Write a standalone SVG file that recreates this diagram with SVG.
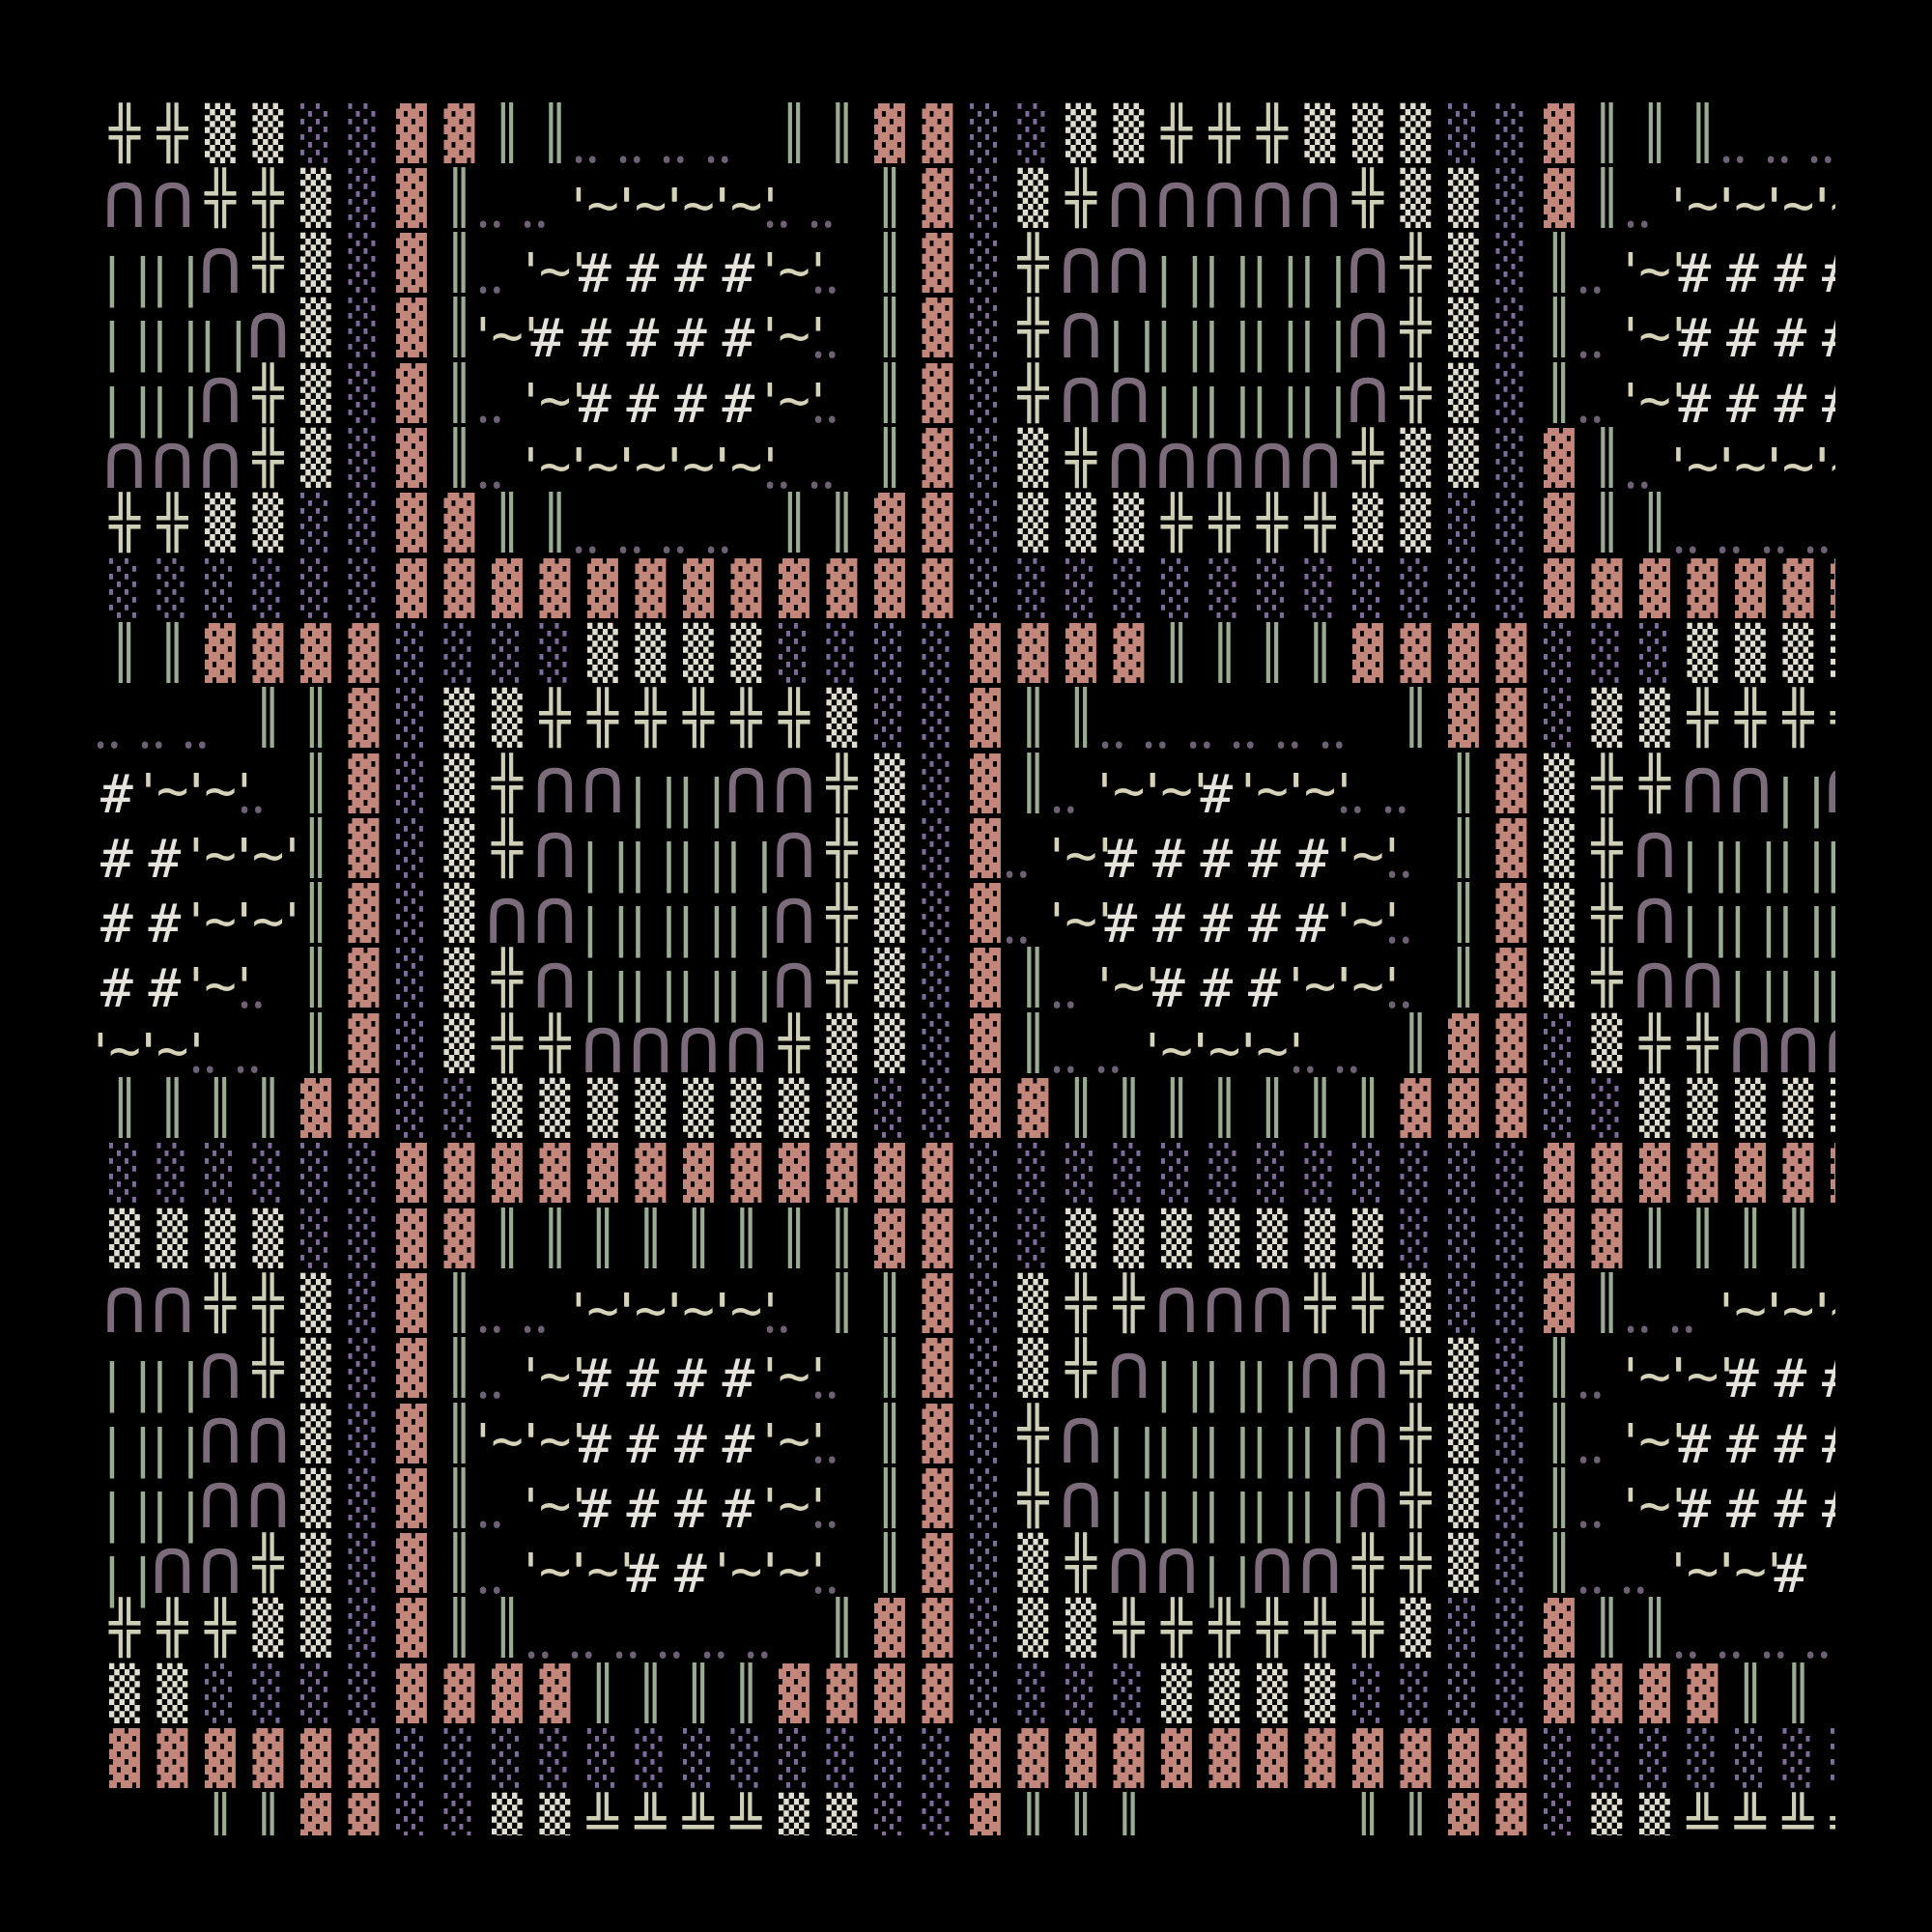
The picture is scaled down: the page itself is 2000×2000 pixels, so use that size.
<svg xmlns="http://www.w3.org/2000/svg" xmlns:xlink="http://www.w3.org/1999/xlink" width="2000" height="2000" viewBox="0 0 2000 2000">
<style>
text{font-family:"DejaVu Sans Mono",monospace;white-space:pre}
.h{fill:#cfcfb6}.m{fill:#e2decf}.l{fill:#7d6c9c}.p{fill:#c3867b}.v{fill:#9aac92}
#main text{font-size:53px;letter-spacing:17.59px}
#arch text{font-size:80px;letter-spacing:1.34px;fill:#7b6b7b}
#hash text{font-size:56px;letter-spacing:15.79px;fill:#e6e3dc}
#tilde text{font-size:56px;letter-spacing:15.79px;fill:#d6d3b8}
#ticks text{font-size:53px;letter-spacing:17.59px;fill:#d6d3b8}
#dots text{font-size:53px;letter-spacing:17.59px;fill:#6f6175}
#bars text{font-size:53px;letter-spacing:17.59px;fill:#9aac92}
</style>
<defs><clipPath id="clip"><rect x="100" y="100" width="1800" height="1800"/></clipPath></defs>
<rect width="2000" height="2000" fill="#000"/>
<g id="grid" clip-path="url(#clip)">
<g id="main" transform="translate(113.05 0)">
<text x="0" y="155.5"><tspan class="h">╬╬</tspan><tspan class="m">▒▒</tspan><tspan class="l">░░</tspan><tspan class="p">▓▓</tspan><tspan class="v">║║</tspan><tspan class="v" x="693">║║</tspan><tspan class="p">▓▓</tspan><tspan class="l">░░</tspan><tspan class="m">▒▒</tspan><tspan class="h">╬╬╬</tspan><tspan class="m">▒▒▒</tspan><tspan class="l">░░</tspan><tspan class="p">▓</tspan><tspan class="v">║║║</tspan></text>
<text x="0" y="222.8"><tspan class="h" x="99">╬╬</tspan><tspan class="m">▒</tspan><tspan class="l">░</tspan><tspan class="p">▓</tspan><tspan class="v">║</tspan><tspan class="v" x="792">║</tspan><tspan class="p">▓</tspan><tspan class="l">░</tspan><tspan class="m">▒</tspan><tspan class="h">╬</tspan><tspan class="h" x="1287">╬</tspan><tspan class="m">▒▒</tspan><tspan class="l">░</tspan><tspan class="p">▓</tspan><tspan class="v">║</tspan></text>
<text x="0" y="290.1"><tspan class="h" x="148.5">╬</tspan><tspan class="m">▒</tspan><tspan class="l">░</tspan><tspan class="p">▓</tspan><tspan class="v">║</tspan><tspan class="v" x="792">║</tspan><tspan class="p">▓</tspan><tspan class="l">░</tspan><tspan class="h">╬</tspan><tspan class="h" x="1336.5">╬</tspan><tspan class="m">▒</tspan><tspan class="l">░</tspan><tspan class="v">║</tspan></text>
<text x="0" y="357.4"><tspan class="m" x="198">▒</tspan><tspan class="l">░</tspan><tspan class="p">▓</tspan><tspan class="v">║</tspan><tspan class="v" x="792">║</tspan><tspan class="p">▓</tspan><tspan class="l">░</tspan><tspan class="h">╬</tspan><tspan class="h" x="1336.5">╬</tspan><tspan class="m">▒</tspan><tspan class="l">░</tspan><tspan class="v">║</tspan></text>
<text x="0" y="424.7"><tspan class="h" x="148.5">╬</tspan><tspan class="m">▒</tspan><tspan class="l">░</tspan><tspan class="p">▓</tspan><tspan class="v">║</tspan><tspan class="v" x="792">║</tspan><tspan class="p">▓</tspan><tspan class="l">░</tspan><tspan class="h">╬</tspan><tspan class="h" x="1336.5">╬</tspan><tspan class="m">▒</tspan><tspan class="l">░</tspan><tspan class="v">║</tspan></text>
<text x="0" y="492"><tspan class="h" x="148.5">╬</tspan><tspan class="m">▒</tspan><tspan class="l">░</tspan><tspan class="p">▓</tspan><tspan class="v">║</tspan><tspan class="v" x="792">║</tspan><tspan class="p">▓</tspan><tspan class="l">░</tspan><tspan class="m">▒</tspan><tspan class="h">╬</tspan><tspan class="h" x="1287">╬</tspan><tspan class="m">▒▒</tspan><tspan class="l">░</tspan><tspan class="p">▓</tspan><tspan class="v">║</tspan></text>
<text x="0" y="559.3"><tspan class="h">╬╬</tspan><tspan class="m">▒▒</tspan><tspan class="l">░░</tspan><tspan class="p">▓▓</tspan><tspan class="v">║║</tspan><tspan class="v" x="693">║║</tspan><tspan class="p">▓▓</tspan><tspan class="l">░</tspan><tspan class="m">▒▒▒</tspan><tspan class="h">╬╬╬╬</tspan><tspan class="m">▒▒</tspan><tspan class="l">░░</tspan><tspan class="p">▓</tspan><tspan class="v">║║</tspan></text>
<text x="0" y="626.6"><tspan class="l">░░░░░░</tspan><tspan class="p">▓▓▓▓▓▓▓▓▓▓▓▓</tspan><tspan class="l">░░░░░░░░░░░░</tspan><tspan class="p">▓▓▓▓▓▓▓</tspan></text>
<text x="0" y="693.9"><tspan class="v">║║</tspan><tspan class="p">▓▓▓▓</tspan><tspan class="l">░░░░</tspan><tspan class="m">▒▒▒▒</tspan><tspan class="l">░░░░</tspan><tspan class="p">▓▓▓▓</tspan><tspan class="v">║║║║</tspan><tspan class="p">▓▓▓▓</tspan><tspan class="l">░░░</tspan><tspan class="m">▒▒▒▒</tspan></text>
<text x="0" y="761.2"><tspan class="v" x="148.5">║║</tspan><tspan class="p">▓</tspan><tspan class="l">░</tspan><tspan class="m">▒▒</tspan><tspan class="h">╬╬╬╬╬╬</tspan><tspan class="m">▒</tspan><tspan class="l">░░</tspan><tspan class="p">▓</tspan><tspan class="v">║║</tspan><tspan class="v" x="1336.5">║</tspan><tspan class="p">▓▓</tspan><tspan class="l">░</tspan><tspan class="m">▒▒</tspan><tspan class="h">╬╬╬╬</tspan></text>
<text x="0" y="828.5"><tspan class="v" x="198">║</tspan><tspan class="p">▓</tspan><tspan class="l">░</tspan><tspan class="m">▒</tspan><tspan class="h">╬</tspan><tspan class="h" x="742.5">╬</tspan><tspan class="m">▒</tspan><tspan class="l">░</tspan><tspan class="p">▓</tspan><tspan class="v">║</tspan><tspan class="v" x="1386">║</tspan><tspan class="p">▓</tspan><tspan class="m">▒</tspan><tspan class="h">╬╬</tspan></text>
<text x="0" y="895.8"><tspan class="v" x="198">║</tspan><tspan class="p">▓</tspan><tspan class="l">░</tspan><tspan class="m">▒</tspan><tspan class="h">╬</tspan><tspan class="h" x="742.5">╬</tspan><tspan class="m">▒</tspan><tspan class="l">░</tspan><tspan class="p">▓</tspan><tspan class="v" x="1386">║</tspan><tspan class="p">▓</tspan><tspan class="m">▒</tspan><tspan class="h">╬</tspan></text>
<text x="0" y="963.1"><tspan class="v" x="198">║</tspan><tspan class="p">▓</tspan><tspan class="l">░</tspan><tspan class="m">▒</tspan><tspan class="h" x="742.5">╬</tspan><tspan class="m">▒</tspan><tspan class="l">░</tspan><tspan class="p">▓</tspan><tspan class="v" x="1386">║</tspan><tspan class="p">▓</tspan><tspan class="m">▒</tspan><tspan class="h">╬</tspan></text>
<text x="0" y="1030.4"><tspan class="v" x="198">║</tspan><tspan class="p">▓</tspan><tspan class="l">░</tspan><tspan class="m">▒</tspan><tspan class="h">╬</tspan><tspan class="h" x="742.5">╬</tspan><tspan class="m">▒</tspan><tspan class="l">░</tspan><tspan class="p">▓</tspan><tspan class="v">║</tspan><tspan class="v" x="1386">║</tspan><tspan class="p">▓</tspan><tspan class="m">▒</tspan><tspan class="h">╬</tspan></text>
<text x="0" y="1097.7"><tspan class="v" x="198">║</tspan><tspan class="p">▓</tspan><tspan class="l">░</tspan><tspan class="m">▒</tspan><tspan class="h">╬╬</tspan><tspan class="h" x="693">╬</tspan><tspan class="m">▒▒</tspan><tspan class="l">░</tspan><tspan class="p">▓</tspan><tspan class="v">║</tspan><tspan class="v" x="1336.5">║</tspan><tspan class="p">▓▓</tspan><tspan class="l">░</tspan><tspan class="m">▒</tspan><tspan class="h">╬╬</tspan></text>
<text x="0" y="1165"><tspan class="v">║║║║</tspan><tspan class="p">▓▓</tspan><tspan class="l">░░</tspan><tspan class="m">▒▒▒▒▒▒▒▒</tspan><tspan class="l">░░</tspan><tspan class="p">▓▓</tspan><tspan class="v">║║║║║║║</tspan><tspan class="p">▓▓▓</tspan><tspan class="l">░░</tspan><tspan class="m">▒▒▒▒▒</tspan></text>
<text x="0" y="1232.3"><tspan class="l">░░░░░░</tspan><tspan class="p">▓▓▓▓▓▓▓▓▓▓▓▓</tspan><tspan class="l">░░░░░░░░░░░░</tspan><tspan class="p">▓▓▓▓▓▓▓</tspan></text>
<text x="0" y="1299.6"><tspan class="m">▒▒▒▒</tspan><tspan class="l">░░</tspan><tspan class="p">▓▓</tspan><tspan class="v">║║║║║║║║</tspan><tspan class="p">▓▓</tspan><tspan class="l">░░</tspan><tspan class="m">▒▒▒▒▒▒▒</tspan><tspan class="l">░░░</tspan><tspan class="p">▓▓</tspan><tspan class="v">║║║║</tspan></text>
<text x="0" y="1366.9"><tspan class="h" x="99">╬╬</tspan><tspan class="m">▒</tspan><tspan class="l">░</tspan><tspan class="p">▓</tspan><tspan class="v">║</tspan><tspan class="v" x="742.5">║║</tspan><tspan class="p">▓</tspan><tspan class="l">░</tspan><tspan class="m">▒</tspan><tspan class="h">╬╬</tspan><tspan class="h" x="1237.5">╬╬</tspan><tspan class="m">▒</tspan><tspan class="l">░░</tspan><tspan class="p">▓</tspan><tspan class="v">║</tspan></text>
<text x="0" y="1434.2"><tspan class="h" x="148.5">╬</tspan><tspan class="m">▒</tspan><tspan class="l">░</tspan><tspan class="p">▓</tspan><tspan class="v">║</tspan><tspan class="v" x="792">║</tspan><tspan class="p">▓</tspan><tspan class="l">░</tspan><tspan class="m">▒</tspan><tspan class="h">╬</tspan><tspan class="h" x="1336.5">╬</tspan><tspan class="m">▒</tspan><tspan class="l">░</tspan><tspan class="v">║</tspan></text>
<text x="0" y="1501.5"><tspan class="m" x="198">▒</tspan><tspan class="l">░</tspan><tspan class="p">▓</tspan><tspan class="v">║</tspan><tspan class="v" x="792">║</tspan><tspan class="p">▓</tspan><tspan class="l">░</tspan><tspan class="h">╬</tspan><tspan class="h" x="1336.5">╬</tspan><tspan class="m">▒</tspan><tspan class="l">░</tspan><tspan class="v">║</tspan></text>
<text x="0" y="1568.8"><tspan class="m" x="198">▒</tspan><tspan class="l">░</tspan><tspan class="p">▓</tspan><tspan class="v">║</tspan><tspan class="v" x="792">║</tspan><tspan class="p">▓</tspan><tspan class="l">░</tspan><tspan class="h">╬</tspan><tspan class="h" x="1336.5">╬</tspan><tspan class="m">▒</tspan><tspan class="l">░</tspan><tspan class="v">║</tspan></text>
<text x="0" y="1636.1"><tspan class="h" x="148.5">╬</tspan><tspan class="m">▒</tspan><tspan class="l">░</tspan><tspan class="p">▓</tspan><tspan class="v">║</tspan><tspan class="v" x="792">║</tspan><tspan class="p">▓</tspan><tspan class="l">░</tspan><tspan class="m">▒</tspan><tspan class="h">╬</tspan><tspan class="h" x="1287">╬╬</tspan><tspan class="m">▒</tspan><tspan class="l">░</tspan><tspan class="v">║</tspan></text>
<text x="0" y="1703.4"><tspan class="h">╬╬╬</tspan><tspan class="m">▒▒</tspan><tspan class="l">░</tspan><tspan class="p">▓</tspan><tspan class="v">║║</tspan><tspan class="v" x="742.5">║</tspan><tspan class="p">▓▓</tspan><tspan class="l">░</tspan><tspan class="m">▒▒</tspan><tspan class="h">╬╬╬╬╬╬</tspan><tspan class="m">▒</tspan><tspan class="l">░░</tspan><tspan class="p">▓</tspan><tspan class="v">║║</tspan></text>
<text x="0" y="1770.7"><tspan class="m">▒▒</tspan><tspan class="l">░░░░</tspan><tspan class="p">▓▓▓▓</tspan><tspan class="v">║║║║</tspan><tspan class="p">▓▓▓▓</tspan><tspan class="l">░░░░</tspan><tspan class="m">▒▒▒▒</tspan><tspan class="l">░░░░</tspan><tspan class="p">▓▓▓▓</tspan><tspan class="v">║║</tspan></text>
<text x="0" y="1838"><tspan class="p">▓▓▓▓▓▓</tspan><tspan class="l">░░░░░░░░░░░░</tspan><tspan class="p">▓▓▓▓▓▓▓▓▓▓▓▓</tspan><tspan class="l">░░░░░░░</tspan></text>
<text x="0" y="1905.3"><tspan class="v" x="99">║║</tspan><tspan class="p">▓▓</tspan><tspan class="l">░░</tspan><tspan class="m">▒▒</tspan><tspan class="h">╩╩╩╩</tspan><tspan class="m">▒▒</tspan><tspan class="l">░░</tspan><tspan class="p">▓</tspan><tspan class="v">║║║</tspan><tspan class="v" x="1287">║║</tspan><tspan class="p">▓▓</tspan><tspan class="l">░</tspan><tspan class="m">▒▒</tspan><tspan class="h">╩╩╩╩</tspan></text>
</g>
<g id="arch" transform="translate(104.92 12.5)">
<text y="222.8"><tspan x="0">∩∩</tspan><tspan x="1039.5">∩∩∩∩∩</tspan></text>
<text y="290.1"><tspan x="99">∩</tspan><tspan x="990">∩∩</tspan><tspan x="1287">∩</tspan></text>
<text y="357.4"><tspan x="148.5">∩</tspan><tspan x="990">∩</tspan><tspan x="1287">∩</tspan></text>
<text y="424.7"><tspan x="99">∩</tspan><tspan x="990">∩∩</tspan><tspan x="1287">∩</tspan></text>
<text y="492"><tspan x="0">∩∩∩</tspan><tspan x="1039.5">∩∩∩∩∩</tspan></text>
<text y="828.5"><tspan x="445.5">∩∩</tspan><tspan x="643.5">∩∩</tspan><tspan x="1633.5">∩∩</tspan><tspan x="1782">∩</tspan></text>
<text y="895.8"><tspan x="445.5">∩</tspan><tspan x="693">∩</tspan><tspan x="1584">∩</tspan></text>
<text y="963.1"><tspan x="396">∩∩</tspan><tspan x="693">∩</tspan><tspan x="1584">∩</tspan></text>
<text y="1030.4"><tspan x="445.5">∩</tspan><tspan x="693">∩</tspan><tspan x="1584">∩∩</tspan></text>
<text y="1097.7"><tspan x="495">∩∩∩∩</tspan><tspan x="1683">∩∩∩</tspan></text>
<text y="1366.9"><tspan x="0">∩∩</tspan><tspan x="1089">∩∩∩</tspan></text>
<text y="1434.2"><tspan x="99">∩</tspan><tspan x="1039.5">∩</tspan><tspan x="1237.5">∩∩</tspan></text>
<text y="1501.5"><tspan x="99">∩∩</tspan><tspan x="990">∩</tspan><tspan x="1287">∩</tspan></text>
<text y="1568.8"><tspan x="99">∩∩</tspan><tspan x="990">∩</tspan><tspan x="1287">∩</tspan></text>
<text y="1636.1"><tspan x="49.5">∩∩</tspan><tspan x="1039.5">∩∩</tspan><tspan x="1188">∩∩</tspan></text>
</g>
<g id="hash" transform="translate(104 12)">
<text y="290.1"><tspan x="495">####</tspan><tspan x="1633.5">####</tspan></text>
<text y="357.4"><tspan x="445.5">#####</tspan><tspan x="1633.5">####</tspan></text>
<text y="424.7"><tspan x="495">####</tspan><tspan x="1633.5">####</tspan></text>
<text y="828.5"><tspan x="0">#</tspan><tspan x="1138.5">#</tspan></text>
<text y="895.8"><tspan x="0">##</tspan><tspan x="1039.5">#####</tspan></text>
<text y="963.1"><tspan x="0">##</tspan><tspan x="1039.5">#####</tspan></text>
<text y="1030.4"><tspan x="0">##</tspan><tspan x="1089">###</tspan></text>
<text y="1434.2"><tspan x="495">####</tspan><tspan x="1683">###</tspan></text>
<text y="1501.5"><tspan x="495">####</tspan><tspan x="1633.5">####</tspan></text>
<text y="1568.8"><tspan x="495">####</tspan><tspan x="1633.5">####</tspan></text>
<text y="1636.1"><tspan x="544.5">##</tspan><tspan x="1732.5">#</tspan></text>
</g>
<g id="tilde" transform="translate(112.14 8.5)">
<text y="222.8"><tspan x="495">~~~~</tspan><tspan x="1633.5">~~~~</tspan></text>
<text y="290.1"><tspan x="445.5">~</tspan><tspan x="693">~</tspan><tspan x="1584">~</tspan></text>
<text y="357.4"><tspan x="396">~</tspan><tspan x="693">~</tspan><tspan x="1584">~</tspan></text>
<text y="424.7"><tspan x="445.5">~</tspan><tspan x="693">~</tspan><tspan x="1584">~</tspan></text>
<text y="492"><tspan x="445.5">~~~~~</tspan><tspan x="1633.5">~~~~</tspan></text>
<text y="828.5"><tspan x="49.5">~~</tspan><tspan x="1039.5">~~</tspan><tspan x="1188">~~</tspan></text>
<text y="895.8"><tspan x="99">~~</tspan><tspan x="990">~</tspan><tspan x="1287">~</tspan></text>
<text y="963.1"><tspan x="99">~~</tspan><tspan x="990">~</tspan><tspan x="1287">~</tspan></text>
<text y="1030.4"><tspan x="99">~</tspan><tspan x="1039.5">~</tspan><tspan x="1237.5">~~</tspan></text>
<text y="1097.7"><tspan x="0">~~</tspan><tspan x="1089">~~~</tspan></text>
<text y="1366.9"><tspan x="495">~~~~</tspan><tspan x="1683">~~~</tspan></text>
<text y="1434.2"><tspan x="445.5">~</tspan><tspan x="693">~</tspan><tspan x="1584">~~</tspan></text>
<text y="1501.5"><tspan x="396">~~</tspan><tspan x="693">~</tspan><tspan x="1584">~</tspan></text>
<text y="1568.8"><tspan x="445.5">~</tspan><tspan x="693">~</tspan><tspan x="1584">~</tspan></text>
<text y="1636.1"><tspan x="445.5">~~</tspan><tspan x="643.5">~~</tspan><tspan x="1633.5">~~</tspan></text>
</g>
<g id="tickl" transform="translate(88.05 10)">
<g id="ticks">
<text y="222.8"><tspan x="495">''''</tspan><tspan x="1633.5">''''</tspan></text>
<text y="290.1"><tspan x="445.5">'</tspan><tspan x="693">'</tspan><tspan x="1584">'</tspan></text>
<text y="357.4"><tspan x="396">'</tspan><tspan x="693">'</tspan><tspan x="1584">'</tspan></text>
<text y="424.7"><tspan x="445.5">'</tspan><tspan x="693">'</tspan><tspan x="1584">'</tspan></text>
<text y="492"><tspan x="445.5">'''''</tspan><tspan x="1633.5">''''</tspan></text>
<text y="828.5"><tspan x="49.5">''</tspan><tspan x="1039.5">''</tspan><tspan x="1188">''</tspan></text>
<text y="895.8"><tspan x="99">''</tspan><tspan x="990">'</tspan><tspan x="1287">'</tspan></text>
<text y="963.1"><tspan x="99">''</tspan><tspan x="990">'</tspan><tspan x="1287">'</tspan></text>
<text y="1030.4"><tspan x="99">'</tspan><tspan x="1039.5">'</tspan><tspan x="1237.5">''</tspan></text>
<text y="1097.7"><tspan x="0">''</tspan><tspan x="1089">'''</tspan></text>
<text y="1366.9"><tspan x="495">''''</tspan><tspan x="1683">'''</tspan></text>
<text y="1434.2"><tspan x="445.5">'</tspan><tspan x="693">'</tspan><tspan x="1584">''</tspan></text>
<text y="1501.5"><tspan x="396">''</tspan><tspan x="693">'</tspan><tspan x="1584">'</tspan></text>
<text y="1568.8"><tspan x="445.5">'</tspan><tspan x="693">'</tspan><tspan x="1584">'</tspan></text>
<text y="1636.1"><tspan x="445.5">''</tspan><tspan x="643.5">''</tspan><tspan x="1633.5">''</tspan></text>
</g>
<use xlink:href="#ticks" href="#ticks" x="50"/>
</g>
<g id="dots" transform="translate(97.05 12.5)">
<text y="155.5"><tspan x="495">‥‥‥‥</tspan><tspan x="1683">‥‥‥</tspan></text>
<text y="222.8"><tspan x="396">‥‥</tspan><tspan x="693">‥‥</tspan><tspan x="1584">‥</tspan></text>
<text y="290.1"><tspan x="396">‥</tspan><tspan x="742.5">‥</tspan><tspan x="1534.5">‥</tspan></text>
<text y="357.4"><tspan x="742.5">‥</tspan><tspan x="1534.5">‥</tspan></text>
<text y="424.7"><tspan x="396">‥</tspan><tspan x="742.5">‥</tspan><tspan x="1534.5">‥</tspan></text>
<text y="492"><tspan x="396">‥</tspan><tspan x="693">‥‥</tspan><tspan x="1584">‥</tspan></text>
<text y="559.3"><tspan x="495">‥‥‥‥</tspan><tspan x="1633.5">‥‥‥‥</tspan></text>
<text y="761.2"><tspan x="0">‥‥‥</tspan><tspan x="1039.5">‥‥‥‥‥‥</tspan></text>
<text y="828.5"><tspan x="148.5">‥</tspan><tspan x="990">‥</tspan><tspan x="1287">‥‥</tspan></text>
<text y="895.8"><tspan x="940.5">‥</tspan><tspan x="1336.5">‥</tspan></text>
<text y="963.1"><tspan x="940.5">‥</tspan><tspan x="1336.5">‥</tspan></text>
<text y="1030.4"><tspan x="148.5">‥</tspan><tspan x="990">‥</tspan><tspan x="1336.5">‥</tspan></text>
<text y="1097.7"><tspan x="99">‥‥</tspan><tspan x="990">‥‥</tspan><tspan x="1237.5">‥‥</tspan></text>
<text y="1366.9"><tspan x="396">‥‥</tspan><tspan x="693">‥</tspan><tspan x="1584">‥‥</tspan></text>
<text y="1434.2"><tspan x="396">‥</tspan><tspan x="742.5">‥</tspan><tspan x="1534.5">‥</tspan></text>
<text y="1501.5"><tspan x="742.5">‥</tspan><tspan x="1534.5">‥</tspan></text>
<text y="1568.8"><tspan x="396">‥</tspan><tspan x="742.5">‥</tspan><tspan x="1534.5">‥</tspan></text>
<text y="1636.1"><tspan x="396">‥</tspan><tspan x="742.5">‥</tspan><tspan x="1534.5">‥‥</tspan></text>
<text y="1703.4"><tspan x="445.5">‥‥‥‥‥‥</tspan><tspan x="1633.5">‥‥‥‥</tspan></text>
</g>
<g id="barl" transform="translate(100.05 16)">
<g id="bars">
<text y="290.1"><tspan x="0">||</tspan><tspan x="1089">||||</tspan></text>
<text y="357.4"><tspan x="0">|||</tspan><tspan x="1039.5">|||||</tspan></text>
<text y="424.7"><tspan x="0">||</tspan><tspan x="1089">||||</tspan></text>
<text y="828.5"><tspan x="544.5">||</tspan><tspan x="1732.5">|</tspan></text>
<text y="895.8"><tspan x="495">||||</tspan><tspan x="1633.5">||||</tspan></text>
<text y="963.1"><tspan x="495">||||</tspan><tspan x="1633.5">||||</tspan></text>
<text y="1030.4"><tspan x="495">||||</tspan><tspan x="1683">|||</tspan></text>
<text y="1434.2"><tspan x="0">||</tspan><tspan x="1089">|||</tspan></text>
<text y="1501.5"><tspan x="0">||</tspan><tspan x="1039.5">|||||</tspan></text>
<text y="1568.8"><tspan x="0">||</tspan><tspan x="1039.5">|||||</tspan></text>
<text y="1636.1"><tspan x="0">|</tspan><tspan x="1138.5">|</tspan></text>
</g>
<use xlink:href="#bars" href="#bars" x="32"/>
</g>
</g>
</svg>
